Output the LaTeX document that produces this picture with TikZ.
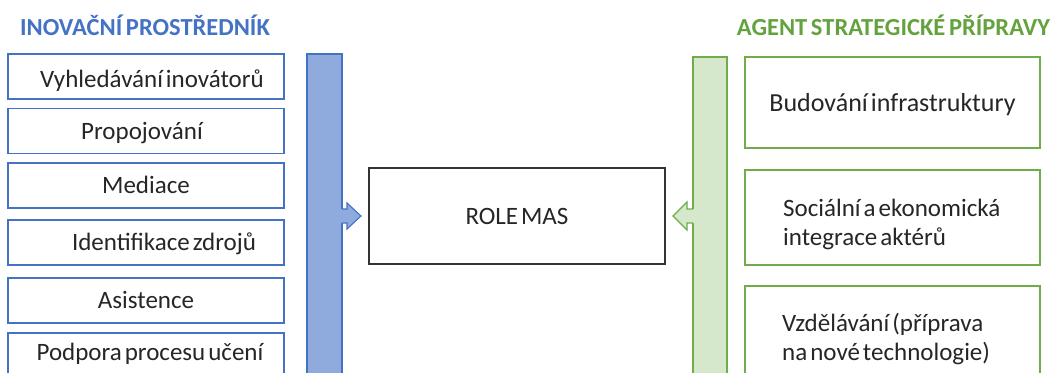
\documentclass[tikz,border=0pt]{standalone}
\usepackage{fontspec}
\setmainfont{Carlito}
\usetikzlibrary{calc}
\definecolor{ipblue}{HTML}{4472C4}
\definecolor{ipfill}{HTML}{8FAADC}
\definecolor{asgreen}{HTML}{70AD47}
\definecolor{astitle}{HTML}{64A23E}
\definecolor{asfill}{HTML}{D5E8CC}
\definecolor{txt}{HTML}{262626}
% body text: 25pt with tight word spacing
\newcommand{\bodyfont}{\fontsize{25}{29}\selectfont\spaceskip=0.12em plus 0.05em\relax}
\newcommand{\headfont}{\fontsize{24.5}{28}\selectfont\bfseries\spaceskip=0.15em\relax}
\tikzset{
  every node/.style={font=\bodyfont, text=txt, inner sep=0pt},
  lbox/.style={draw=ipblue, line width=1.1pt, fill=white, minimum width=276pt,
    minimum height=45pt, text height=16pt, text depth=0pt},
  rbox/.style={draw=asgreen, line width=1.1pt, fill=white, minimum width=295pt},
  mainbox/.style={draw=black!80, line width=1.2pt, fill=white, minimum width=296pt,
    minimum height=96pt, text height=16pt, text depth=0pt},
  lbar/.style={draw=ipblue, line width=1.1pt, fill=ipfill},
  rbar/.style={draw=asgreen, line width=1.1pt, fill=asfill},
  title/.style={font=\headfont, anchor=base},
}
\begin{document}
\begin{tikzpicture}[x=1pt,y=-1pt]
\useasboundingbox (0,0) rectangle (1057,372);
\clip (0,0) rectangle (1057,372);

% titles
\node[title, text=ipblue] (t1) at (145,35) {INOVAČNÍ PROSTŘEDNÍK};
\node[title, text=astitle] (t2) at (893.5,35) {AGENT STRATEGICKÉ PŘÍPRAVY};

% left column of activities
\node[lbox] (l1) at (146,76.5) {\hspace*{12pt}\raisebox{-3pt}{Vyhledávání inovátorů}};
\node[lbox] (l2) at (146,131) {\hspace*{-8pt}Propojování};
\node[lbox] (l3) at (146,185.5) {Mediace};
\node[lbox] (l4) at (146,242.5) {\hspace*{36pt}Identifikace zdrojů};
\node[lbox] (l5) at (146,300.5) {Asistence};
\node[lbox] (l6) at (146,355.5) {\hspace*{8pt}\raisebox{3.5pt}{Podpora procesu učení}};

% vertical bars
\draw[lbar] (307,54) rectangle (342,400);
\coordinate (lbarE) at (342,216);
\draw[rbar] (693,57) rectangle (727,400);
\coordinate (rbarW) at (693,216);

% central box
\node[mainbox] (role) at (517,216) {ROLE MAS};

% right column of activities
\node[rbox, minimum height=91pt, text height=12pt, text depth=0pt] (r1) at (892.5,102.5)
  {\fontsize{26}{29}\selectfont\raisebox{-3pt}{Budování infrastruktury}};
\node[rbox, minimum height=95pt] (r2) at (892.5,217.5) {};
\node[anchor=west, align=left] (r2t) at (783,224.5) {Sociální a ekonomická\\integrace aktérů};
\node[rbox, minimum height=110pt] (r3) at (892.5,341) {};
\node[anchor=west, align=left] (r3t) at (782,339.5) {Vzdělávání (příprava\\na nové technologie)};

% small block arrows from the bars towards the central box
\fill[ipfill] ($(lbarE)+(-1.5,-7)$) -- ++(6.5,0) -- ++(0,-6) -- ($(lbarE |- role.west)+(19,0)$) -- ($(lbarE)+(5,13)$) -- ++(0,-6) -- ++(-6.5,0) -- cycle;
\draw[ipblue, line width=1.1pt, line join=miter]
  ($(lbarE)+(0,-7)$) -- ++(5,0) -- ++(0,-6) -- ($(lbarE |- role.west)+(19,0)$) -- ($(lbarE)+(5,13)$) -- ++(0,-6) -- ++(-5,0);
\fill[asfill] ($(rbarW)+(1.5,-7)$) -- ++(-7.5,0) -- ++(0,-7) -- ($(rbarW |- role.east)+(-20,0)$) -- ($(rbarW)+(-6,14)$) -- ++(0,-7) -- ++(7.5,0) -- cycle;
\draw[asgreen, line width=1.1pt, line join=miter]
  ($(rbarW)+(0,-7)$) -- ++(-6,0) -- ++(0,-7) -- ($(rbarW |- role.east)+(-20,0)$) -- ($(rbarW)+(-6,14)$) -- ++(0,-7) -- ++(6,0);
\end{tikzpicture}
\end{document}
